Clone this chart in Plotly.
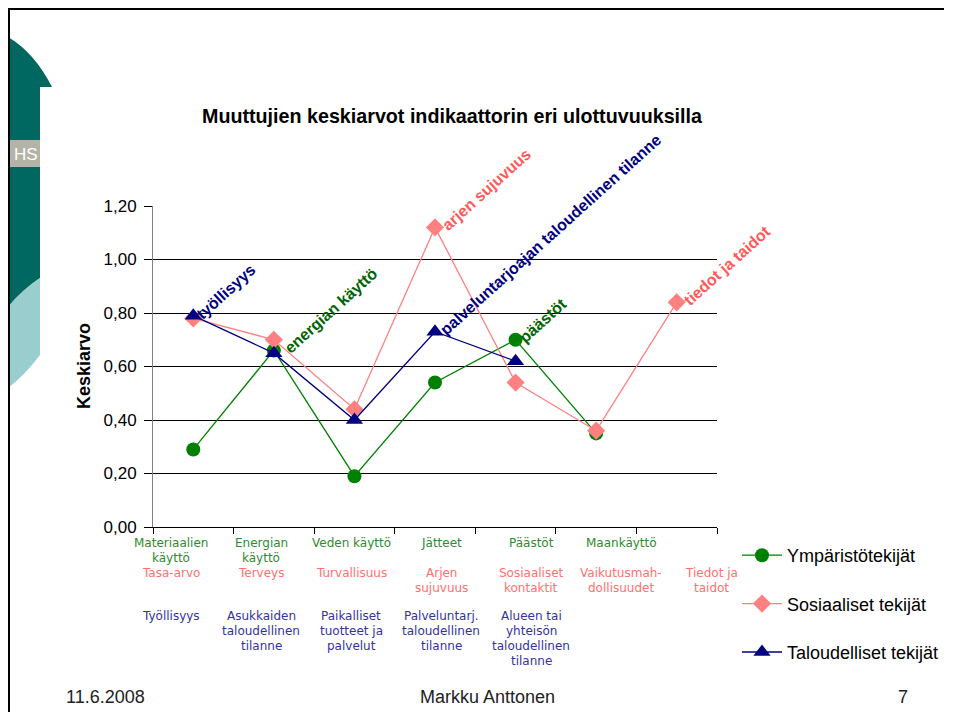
import plotly.graph_objects as go

# ---------------- data ----------------
categories = ["c1", "c2", "c3", "c4", "c5", "c6", "c7"]
labels_env = [["Materiaalien", "käyttö"], ["Energian", "käyttö"], ["Veden käyttö"], ["Jätteet"],
              ["Päästöt"], ["Maankäyttö"], []]
labels_soc = [["Tasa-arvo"], ["Terveys"], ["Turvallisuus"], ["Arjen", "sujuvuus"],
              ["Sosiaaliset", "kontaktit"], ["Vaikutusmah-", "dollisuudet"], ["Tiedot ja", "taidot"]]
labels_eco = [["Työllisyys"], ["Asukkaiden", "taloudellinen", "tilanne"],
              ["Paikalliset", "tuotteet ja", "palvelut"], ["Palveluntarj.", "taloudellinen", "tilanne"],
              ["Alueen tai", "yhteisön", "taloudellinen", "tilanne"], [], []]

ymparisto = [0.29, 0.66, 0.19, 0.54, 0.70, 0.35, None]
sosiaaliset = [0.78, 0.70, 0.44, 1.12, 0.54, 0.36, 0.84]
taloudelliset = [0.79, 0.65, 0.40, 0.73, 0.62, None, None]

series_names = ["Ympäristötekijät", "Sosiaaliset tekijät", "Taloudelliset tekijät"]

ytick_vals = [0.0, 0.2, 0.4, 0.6, 0.8, 1.0, 1.2]
ytick_text = ["0,00", "0,20", "0,40", "0,60", "0,80", "1,00", "1,20"]

# data labels: (series index, category index, text)
point_labels = [
    (2, 0, "työllisyys"),
    (0, 1, "energian käyttö"),
    (1, 3, "arjen sujuvuus"),
    (2, 3, "palveluntarjoajan taloudellinen tilanne"),
    (0, 4, "päästöt"),
    (1, 6, "tiedot ja taidot"),
]

title_text = "Muuttujien keskiarvot indikaattorin eri ulottuvuuksilla"
y_title = "Keskiarvo"
footer = ["11.6.2008", "Markku Anttonen", "7"]

# ---------------- geometry (reference pixel coords; page has 8px body margin) ----------------
OFF = 8
W, H = 954 - 2 * OFF, 720 - 2 * OFF
ML = 153 - OFF
MT = 206 - OFF
MR = W - (717 - OFF)
MB = H - (527 - OFF)
PW, PH = W - ML - MR, H - MT - MB


def px(x):
    return (x - OFF - ML) / PW


def py(y):
    return (H - MB - (y - OFF)) / PH


GREEN = "#008000"
PINK = "#FF8080"
NAVY = "#000080"
ARIAL = "Arial, Liberation Sans, sans-serif"
VERD = "Verdana, DejaVu Sans, sans-serif"

series_vals = [ymparisto, sosiaaliset, taloudelliset]
series_colors = [GREEN, PINK, NAVY]
series_symbols = ["circle", "diamond", "triangle-up"]
series_sizes = [14, 14, 15]
label_colors = ["#006400", "#FF5A5A", "#000080"]
label_shift = {(0, 1): 8, (1, 3): 4, (2, 3): 2, (1, 6): 4}

fig = go.Figure()
for i in range(3):
    fig.add_trace(go.Scatter(
        x=categories, y=series_vals[i], name=series_names[i],
        mode="lines+markers", connectgaps=False,
        line=dict(color=series_colors[i], width=1.3),
        marker=dict(symbol=series_symbols[i], size=series_sizes[i], color=series_colors[i],
                    line=dict(width=0)),
        legendgroup=str(i),
    ))

ann = []
# rotated data labels
for si, ci, txt in point_labels:
    ann.append(dict(x=categories[ci], y=series_vals[si][ci], xref="x", yref="y",
                    text="<b>%s</b>" % txt, showarrow=False, textangle=-42,
                    xanchor="left", yanchor="bottom",
                    xshift=-3 + label_shift.get((si, ci), 0), yshift=-9,
                    font=dict(family=ARIAL, size=16, color=label_colors[si])))

# category labels: separate text boxes on an evenly spaced grid (171 px .. 711 px)
lab_left, lab_right = 171, 711
n = len(categories)
rows = [(labels_env, "#2E8B2E", 543), (labels_soc, "#FF7070", 573), (labels_eco, "#3333A0", 616)]
for labs, col, y0 in rows:
    for i, lines in enumerate(labs):
        cx = lab_left + (lab_right - lab_left) * i / (n - 1)
        for k, t in enumerate(lines):
            ann.append(dict(x=px(cx), y=py(y0 + 15 * k), xref="paper", yref="paper", text=t,
                            showarrow=False, xanchor="center", yanchor="middle", borderpad=0,
                            font=dict(family=VERD, size=12, color=col)))

# y axis title
ann.append(dict(x=px(84), y=py(366), xref="paper", yref="paper", text="<b>%s</b>" % y_title,
                showarrow=False, textangle=-90, xanchor="center", yanchor="middle",
                font=dict(family=ARIAL, size=18, color="black")))

# HS label on grey box
ann.append(dict(x=px(12), y=py(154), xref="paper", yref="paper", text="HS",
                showarrow=False, xanchor="left", yanchor="middle",
                font=dict(family=ARIAL, size=17, color="white")))

# footer
for txt, fx in zip(footer, [105, 487, 903]):
    ann.append(dict(x=px(fx), y=py(697), xref="paper", yref="paper", text=txt,
                    showarrow=False, xanchor="center", yanchor="middle",
                    font=dict(family=ARIAL, size=18, color="#222222")))


def path(cmds, close=True):
    out = []
    for cmd, *coords in cmds:
        s = cmd
        for j in range(0, len(coords), 2):
            s += " %.5f,%.5f" % (px(coords[j]), py(coords[j + 1]))
        out.append(s)
    return " ".join(out) + (" Z" if close else "")


shapes = [
    dict(type="path", xref="paper", yref="paper", layer="below",
         path=path([("M", 8, 37), ("Q", 34, 52, 52, 87), ("L", 40, 87), ("L", 40, 278),
                    ("Q", 22, 290, 8, 307)]),
         fillcolor="#006860", line=dict(width=0)),
    dict(type="path", xref="paper", yref="paper", layer="below",
         path=path([("M", 8, 307), ("Q", 22, 290, 40, 278), ("L", 40, 355),
                    ("Q", 24, 376, 8, 388)]),
         fillcolor="#9ACDCD", line=dict(width=0)),
    dict(type="rect", xref="paper", yref="paper", layer="below",
         x0=px(8), x1=px(40), y0=py(140), y1=py(167),
         fillcolor="#B3B3A8", line=dict(width=0)),
    # slide frame (left + top edges) as one open path
    dict(type="path", xref="paper", yref="paper",
         path=path([("M", 9, 712), ("L", 9, 9), ("L", 944, 9)], close=False),
         fillcolor="rgba(0,0,0,0)", line=dict(color="black", width=2)),
]

fig.update_layout(
    width=W, height=H, autosize=False,
    margin=dict(l=ML, r=MR, t=MT, b=MB, autoexpand=False),
    paper_bgcolor="white", plot_bgcolor="white",
    title=dict(text="<b>%s</b>" % title_text, x=(452 - OFF) / W, y=1 - (116 - OFF) / H,
               xref="container", yref="container", xanchor="center", yanchor="middle",
               font=dict(family=ARIAL, size=19.7, color="black")),
    xaxis=dict(type="category", categoryorder="array", categoryarray=categories,
               tickson="boundaries", ticks="outside", ticklen=6, tickcolor="black",
               showticklabels=False, showline=True, linecolor="black", linewidth=1,
               showgrid=False, zeroline=False, range=[-0.5, 6.5], automargin=False),
    yaxis=dict(range=[0, 1.2], tickvals=ytick_vals, ticktext=ytick_text,
               ticks="outside", ticklen=8, tickcolor="black", ticklabelstandoff=4,
               showline=True, linecolor="#808080", linewidth=1, automargin=False,
               showgrid=True, gridcolor="black", gridwidth=1, zeroline=False,
               tickfont=dict(family=ARIAL, size=17, color="black")),
    legend=dict(x=px(737), y=py(537), xanchor="left", yanchor="top",
                font=dict(family=ARIAL, size=18, color="black"),
                tracegroupgap=22, bgcolor="rgba(0,0,0,0)", itemwidth=40),
    annotations=ann, shapes=shapes, showlegend=True,
)

fig.write_html("out.html")
